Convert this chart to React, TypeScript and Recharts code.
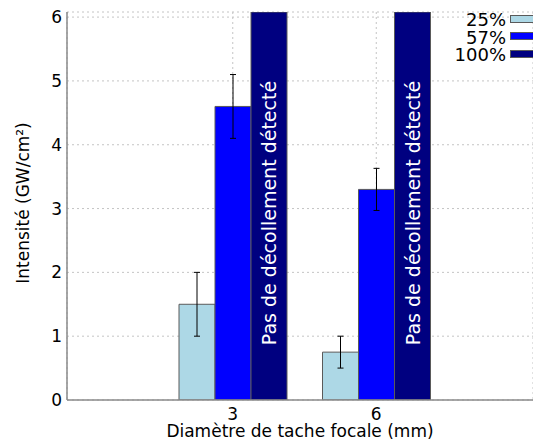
import React from 'react';
import { BarChart, Bar, XAxis, YAxis, CartesianGrid, ErrorBar, LabelList } from 'recharts';

const categories = ['3', '6'];
const v25 = [1.5, 0.75];
const e25 = [0.5, 0.25];
const v57 = [4.6, 3.3];
const e57 = [0.5, 0.33];
const v100 = [6.08, 6.08];
const yTicks = [0, 1, 2, 3, 4, 5, 6];
const seriesNames = ['25%', '57%', '100%'];
const seriesColors = ['#add8e6', '#0000ff', '#000080'];
const barText = 'Pas de décollement détecté';
const xTitle = 'Diamètre de tache focale (mm)';
const yTitle = 'Intensité (GW/cm²)';

const data = categories.map((c, i) => ({
  cat: c,
  s25: v25[i],
  e25: e25[i],
  s57: v57[i],
  e57: e57[i],
  s100: v100[i],
}));

const FONT = '"DejaVu Sans", Verdana, sans-serif';
const FRAME = '#8a8a8a';
const BAR_STROKE = '#5a5a5a';

const LegendBox = () => (
  <div
    style={{
      position: 'absolute',
      top: 11,
      right: 0,
      fontFamily: FONT,
      fontSize: 18,
      lineHeight: '17.5px',
      color: '#000',
    }}
  >
    {seriesNames.map((n, i) => (
      <div key={n} style={{ display: 'flex', alignItems: 'flex-start', justifyContent: 'flex-end', height: 17.5 }}>
        <span style={{ textAlign: 'right', marginRight: 4 }}>{n}</span>
        <span
          style={{
            display: 'inline-block',
            width: 22,
            height: 6,
            marginTop: 3.5,
            background: seriesColors[i],
            border: `1px solid ${BAR_STROKE}`,
            borderRight: 'none',
          }}
        />
      </div>
    ))}
  </div>
);

const InBarLabel = (props: any) => {
  const { x, y, width, height } = props;
  const cx = Number(x) + Number(width) / 2 + 7;
  const cy = Number(y) + Number(height) / 2 + 7;
  return (
    <text
      transform={`translate(${cx},${cy}) rotate(-90)`}
      textAnchor="middle"
      fill="#ffffff"
      fontFamily={FONT}
      fontSize={19}
    >
      {barText}
    </text>
  );
};

const YTitle = (props: any) => {
  const vb = props.viewBox || {};
  const cx = Number(vb.x) + 29;
  const cy = Number(vb.y) + Number(vb.height) / 2 - 3;
  return (
    <text transform={`translate(${cx},${cy}) rotate(-90)`} textAnchor="middle" fill="#000" fontFamily={FONT} fontSize={17}>
      {yTitle}
    </text>
  );
};

export default function App() {
  return (
    <div style={{ position: 'absolute', left: 0, top: 0, width: 533, height: 441, background: '#fff' }}>
      <BarChart
        width={533}
        height={441}
        data={data}
        margin={{ top: 12, right: 0, bottom: 0, left: 0 }}
        barGap={0}
        barSize={36}
      >
        <CartesianGrid stroke="#c4c4c4" strokeDasharray="2 3" />
        <XAxis
          dataKey="cat"
          height={41}
          padding={{ left: 94, right: 85 }}
          tickSize={0}
          tickMargin={8}
          tickLine={false}
          axisLine={{ stroke: FRAME, strokeWidth: 1.5 }}
          tick={{ fill: '#000', fontFamily: FONT, fontSize: 17 }}
          label={{ value: xTitle, position: 'insideBottom', offset: 4, fill: '#000', fontFamily: FONT, fontSize: 17 }}
        />
        <XAxis
          xAxisId="top"
          orientation="top"
          dataKey="cat"
          height={0}
          padding={{ left: 94, right: 85 }}
          tick={false}
          tickLine={false}
          axisLine={{ stroke: FRAME, strokeWidth: 1.5 }}
        />
        <YAxis
          width={67}
          domain={[0, 6.08]}
          ticks={yTicks}
          allowDataOverflow
          tickSize={0}
          tickMargin={5}
          tickLine={false}
          axisLine={{ stroke: FRAME, strokeWidth: 1.5 }}
          tick={{ fill: '#000', fontFamily: FONT, fontSize: 17 }}
          label={<YTitle />}
        />
        <Bar dataKey="s25" name={seriesNames[0]} fill={seriesColors[0]} stroke={BAR_STROKE} strokeWidth={1} isAnimationActive={false}>
          <ErrorBar dataKey="e25" width={3} stroke="#000" strokeWidth={1} direction="y" />
        </Bar>
        <Bar dataKey="s57" name={seriesNames[1]} fill={seriesColors[1]} stroke={BAR_STROKE} strokeWidth={1} isAnimationActive={false}>
          <ErrorBar dataKey="e57" width={3} stroke="#000" strokeWidth={1} direction="y" />
        </Bar>
        <Bar dataKey="s100" name={seriesNames[2]} fill={seriesColors[2]} stroke={BAR_STROKE} strokeWidth={1} isAnimationActive={false}>
          <LabelList dataKey="s100" content={<InBarLabel />} />
        </Bar>
      </BarChart>
      <LegendBox />
    </div>
  );
}
